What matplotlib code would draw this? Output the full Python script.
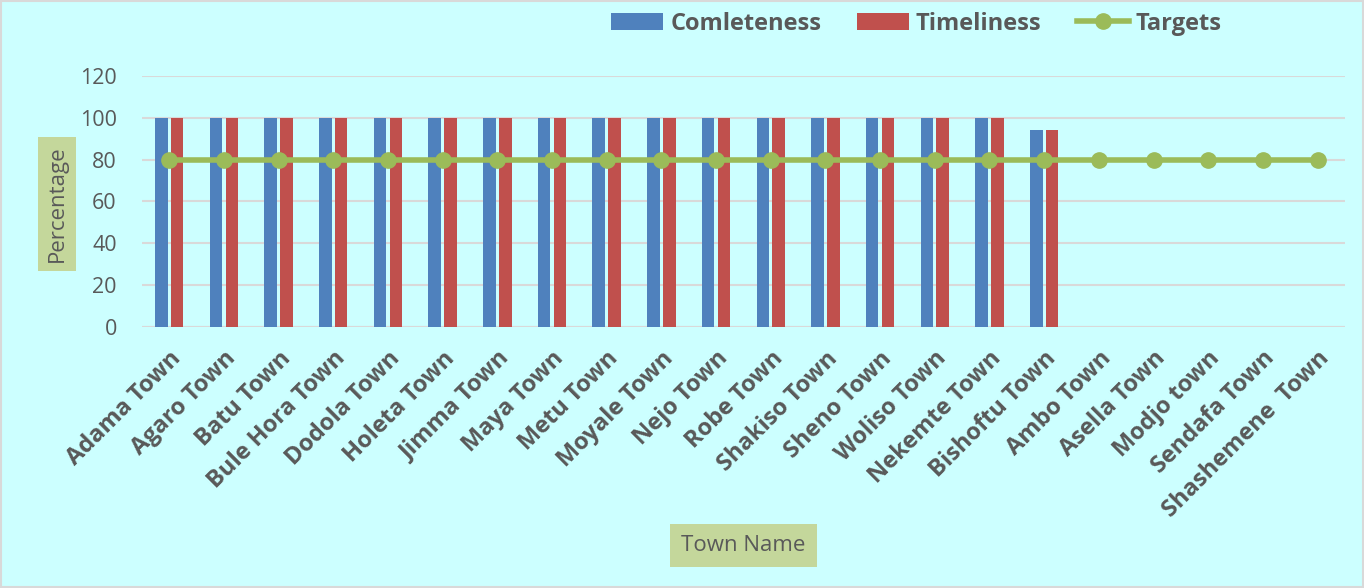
import numpy as np
import matplotlib.pyplot as plt

plt.rcParams['font.family'] = ['Open Sans', 'DejaVu Sans']

towns = ['Adama Town', 'Agaro Town', 'Batu Town', 'Bule Hora Town', 'Dodola Town',
         'Holeta Town', 'Jimma Town', 'Maya Town', 'Metu Town', 'Moyale Town',
         'Nejo Town', 'Robe Town', 'Shakiso Town', 'Sheno Town', 'Woliso Town',
         'Nekemte Town', 'Bishoftu Town', 'Ambo Town', 'Asella Town', 'Modjo town',
         'Sendafa Town', 'Shashemene  Town']
completeness = [100] * 16 + [94, 0, 0, 0, 0, 0]
timeliness = [100] * 16 + [94, 0, 0, 0, 0, 0]
targets = [80] * 22

bg = '#CCFFFF'
txt = '#595959'

fig = plt.figure(figsize=(13.64, 5.88), dpi=100, facecolor=bg)
fig.patches.append(plt.Rectangle((0.001, 0.001), 0.998, 0.998, transform=fig.transFigure,
                                 fill=False, edgecolor='#D9D9D9', linewidth=1.5))
ax = fig.add_axes([0.104, 0.444, 0.882, 0.427])
ax.set_facecolor(bg)

x = np.arange(len(towns))
w = 0.23
b1 = ax.bar(x - 0.145, completeness, w, color='#4F81BD', label='Comleteness', zorder=2)
b2 = ax.bar(x + 0.145, timeliness, w, color='#C0504D', label='Timeliness', zorder=2)
l1, = ax.plot(x, targets, color='#9BBB59', linewidth=4, marker='o', markersize=11,
              label='Targets', zorder=3)

ax.set_xlim(-0.5, len(towns) - 0.5)
ax.set_ylim(0, 120)
ax.set_yticks(range(0, 121, 20))
ax.grid(axis='y', color='#D9D9D9', linewidth=1.5, zorder=0)
for s in ax.spines.values():
    s.set_visible(False)
ax.axhline(0, color='#D9D9D9', linewidth=1.5, zorder=1)
ax.tick_params(length=0, colors=txt)
ax.tick_params(axis='y', labelsize=15.5, pad=18)
ax.tick_params(axis='x', pad=14)
ax.set_xticks(x)
ax.set_xticklabels(towns, rotation=45, ha='right', rotation_mode='anchor',
                   fontsize=17, fontweight='bold', color=txt)
for lab in ax.get_yticklabels():
    lab.set_color(txt)

fig.text(0.042, 0.653, 'Percentage', rotation=90, ha='center', va='center',
         fontsize=16, color=txt,
         bbox=dict(facecolor='#C4D79B', edgecolor='none', pad=6))
fig.text(0.545, 0.072, 'Town Name', ha='center', va='center', fontsize=16, color=txt,
         bbox=dict(facecolor='#C4D79B', edgecolor='none', pad=8))

leg = fig.legend([b1, b2, l1], ['Comleteness', 'Timeliness', 'Targets'],
                 loc='center', bbox_to_anchor=(0.672, 0.960), ncol=3, frameon=False,
                 prop={'size': 17, 'weight': 'bold'}, handlelength=2.2,
                 handleheight=0.7, columnspacing=1.5, handletextpad=0.3)
for t in leg.get_texts():
    t.set_color(txt)

fig.savefig('out.png', dpi=100, facecolor=bg)
